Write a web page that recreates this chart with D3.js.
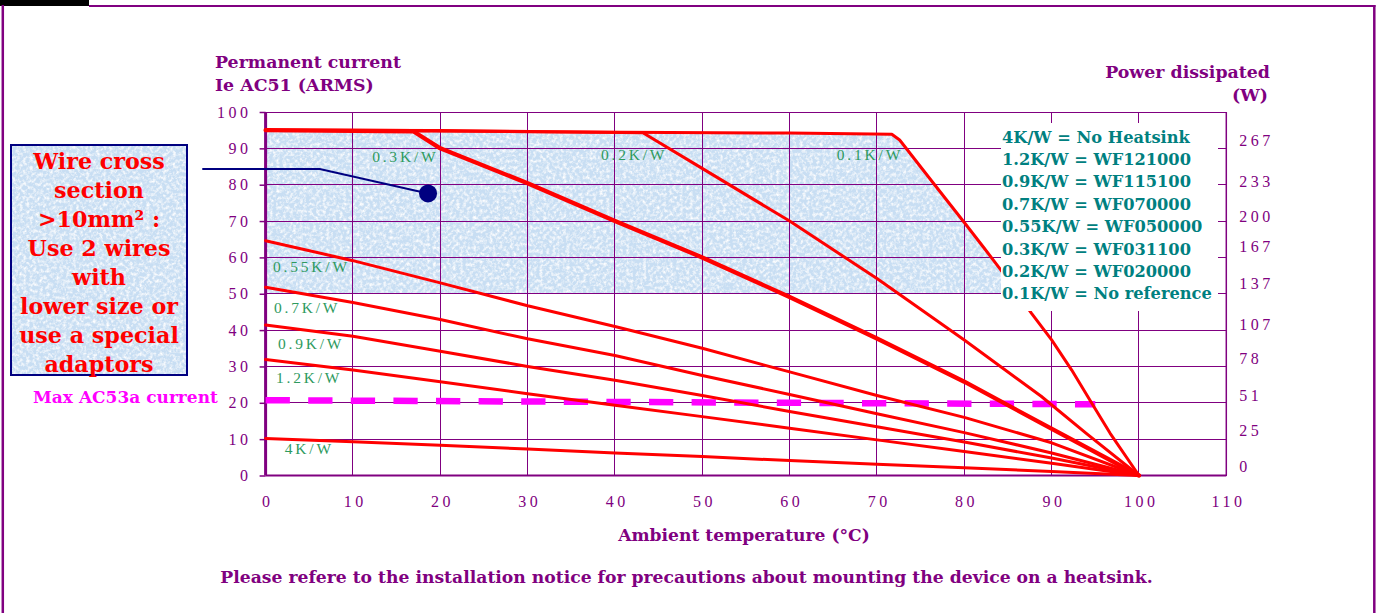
<!DOCTYPE html>
<html><head><meta charset="utf-8">
<script src="https://cdn.jsdelivr.net/npm/d3@7"></script>
<style>
html,body{margin:0;padding:0;background:#fff;}
svg{display:block;}
</style></head>
<body>
<svg id="c" width="1381" height="613"></svg>
<script>
// ---------------- data ----------------
const xTicks = [0,10,20,30,40,50,60,70,80,90,100,110];
const yTicks = [0,10,20,30,40,50,60,70,80,90,100];
const powerLabels = ["0","25","51","78","107","137","167","200","233","267"];
const powerAt     = [2.6,12.5,22.0,32.2,41.6,52.9,62.9,71.2,81.0,92.1];

const temps = [0,10,20,30,40,50,60,70,80,90,100];
const k055 = [64.6,59.1,53.0,46.7,41.0,35.0,28.5,22.0,16.0,9.0,0];
const k07  = [51.8,47.6,42.9,37.6,33.0,27.5,22.3,17.0,11.8,6.2,0];
const k09  = [41.4,38.3,34.2,30.0,26.2,22.0,17.6,13.4,9.2,4.8,0];
const k12  = [31.9,29.0,25.8,22.5,19.3,16.2,13.0,9.8,6.6,3.4,0];
const k4   = [10.2,9.3,8.3,7.3,6.2,5.2,4.1,3.1,2.1,1.1,0];

const k03T = [0,16.9,20,30,40,49.8,60,70,80,88.8,100];
const k03  = [95,94.7,90,80.4,70,60.2,49.1,37.7,25.8,14.4,0];
const k02T = [0,20,43.2,49.7,60,70,73.5,80,88.8,94,100];
const k02  = [95,94.9,94.3,84.9,70,54.2,48.3,37.3,21.8,11.5,0];
const k01T = [0,30,60,71.7,72.6,76.4,80,82.2,84.2,87.7,90,92.3,94.6,96.7,100];
const k01  = [95,94.6,94.2,93.9,92.3,80.6,69.6,62.8,56.5,44.6,37.3,29.0,19.9,11.6,0];

const ac53T = [0,95];
const ac53  = [20.7,19.6];

const curveNames = ["0.3K/W","0.2K/W","0.1K/W","0.55K/W","0.7K/W","0.9K/W","1.2K/W","4K/W"];
const legendLines = ["4K/W = No Heatsink","1.2K/W = WF121000","0.9K/W = WF115100","0.7K/W = WF070000",
  "0.55K/W = WF050000","0.3K/W = WF031100","0.2K/W = WF020000","0.1K/W = No reference"];
const boxLines = ["Wire cross","section",">10mm\u00B2 :","Use 2 wires","with","lower size or","use a special","adaptors"];

// ---------------- layout ----------------
const svg = d3.select("#c");
const PURPLE = "#800080", RED = "#ff0000", TEAL = "#008080", GREEN = "#2e9a5e", NAVY = "#000080", MAG = "#ff00ff";
const SERIF = "'DejaVu Serif', serif";
const TICKF = "'Liberation Serif', serif";

const x = d3.scaleLinear().domain([0,110]).range([265.6,1226.3]);
const y = d3.scaleLinear().domain([0,100]).range([475.5,112]);

const defs = svg.append("defs");
const f = defs.append("filter").attr("id","paper").attr("x",0).attr("y",0).attr("width","100%").attr("height","100%");
f.append("feTurbulence").attr("type","fractalNoise").attr("baseFrequency","0.3").attr("numOctaves",3).attr("seed",5).attr("result","n");
f.append("feColorMatrix").attr("in","n").attr("type","matrix")
  .attr("values","0 0 0 0 1  0 0 0 0 1  0 0 0 0 1  0 0 0 2.2 -0.9").attr("result","w");
f.append("feComposite").attr("in","w").attr("in2","SourceGraphic").attr("operator","in").attr("result","wc");
const fm = f.append("feMerge");
fm.append("feMergeNode").attr("in","SourceGraphic");
fm.append("feMergeNode").attr("in","wc");

// clip: area under 0.1K/W curve
const pts01 = k01T.map((t,i)=>[t,k01[i]]);
defs.append("clipPath").attr("id","under01").append("path")
  .attr("d", d3.area().x(d=>x(d[0])).y0(y(0)).y1(d=>y(d[1]))(pts01));

// frame
svg.append("rect").attr("x",0).attr("y",0).attr("width",89).attr("height",6).attr("fill","#000");
svg.append("line").attr("x1",89).attr("x2",1375.5).attr("y1",6).attr("y2",6).attr("stroke",PURPLE).attr("stroke-width",2);
svg.append("line").attr("x1",2.8).attr("x2",2.8).attr("y1",5).attr("y2",613).attr("stroke",PURPLE).attr("stroke-width",2.5);
svg.append("line").attr("x1",1374.3).attr("x2",1374.3).attr("y1",5).attr("y2",613).attr("stroke",PURPLE).attr("stroke-width",2.5);

// shaded zone
svg.append("g").attr("clip-path","url(#under01)")
  .append("rect").attr("x",x(0)).attr("y",y(95)).attr("width",x(100)-x(0)).attr("height",y(50)-y(95))
  .attr("fill","#c8def3").attr("filter","url(#paper)");

// grid
const grid = svg.append("g").attr("stroke",PURPLE).attr("stroke-width",1).attr("shape-rendering","crispEdges");
grid.selectAll(".v").data(xTicks.filter(d=>d>0)).join("line")
  .attr("x1",d=>x(d)).attr("x2",d=>x(d)).attr("y1",y(0)).attr("y2",y(100));
grid.selectAll(".h").data(yTicks.filter(d=>d>0)).join("line")
  .attr("x1",x(0)).attr("x2",x(110)).attr("y1",d=>y(d)).attr("y2",d=>y(d));

// axes
const axL = svg.append("g").attr("transform",`translate(${x(0)},0)`)
  .call(d3.axisLeft(y).tickValues(yTicks).tickSize(6).tickPadding(8).tickFormat(d3.format("d")));
const axB = svg.append("g").attr("transform",`translate(0,${y(0)})`)
  .call(d3.axisBottom(x).tickValues(xTicks).tickSize(0).tickPadding(20).tickFormat(d3.format("d")));
const axR = svg.append("g").attr("transform",`translate(${x(110)},0)`)
  .call(d3.axisRight(y).tickValues(powerAt).tickSize(0).tickPadding(13).tickFormat((d,i)=>powerLabels[i]));
[axL,axB,axR].forEach(a=>{
  a.select(".domain").attr("stroke",PURPLE);
  a.selectAll(".tick line").attr("stroke",PURPLE);
  a.selectAll("text").attr("fill",PURPLE).attr("font-family",TICKF).attr("font-size",16).attr("letter-spacing","3.5px");
});
axL.select(".domain").attr("stroke-width",3).attr("d",`M0,${y(0)}V${y(100)}`);
axL.selectAll(".tick line").attr("stroke-width",1.5);
axB.select(".domain").attr("stroke-width",2).attr("d",`M${x(0)},0H${x(110)}`);
axR.select(".domain").attr("stroke-width",1.5).attr("d",`M0,${y(0)}V${y(100)}`);
axB.selectAll(".tick text").attr("dx","1.75px");

// AC53 dashed line
const line = d3.line().x(d=>x(d[0])).y(d=>y(d[1]));
svg.append("path").attr("d",line(ac53T.map((t,i)=>[t,ac53[i]])))
  .attr("stroke",MAG).attr("stroke-width",6.5).attr("fill","none").attr("stroke-dasharray","24.3,18.3");

// curves
const curves = [
  {t:temps,v:k4,w:3},{t:temps,v:k12,w:3},{t:temps,v:k09,w:3},{t:temps,v:k07,w:3},
  {t:temps,v:k055,w:3},{t:k03T,v:k03,w:4.3},{t:k02T,v:k02,w:3},{t:k01T,v:k01,w:3}
];
svg.append("g").selectAll("path").data(curves).join("path")
  .attr("d",c=>line(c.t.map((t,i)=>[t,c.v[i]])))
  .attr("fill","none").attr("stroke",RED).attr("stroke-width",c=>c.w)
  .attr("stroke-linejoin","round").attr("stroke-linecap","round");

// legend box
svg.append("rect").attr("x",1001).attr("y",123).attr("width",217).attr("height",188).attr("fill","#fff");
function fitSize(texts, target, weight){
  const t = svg.append("text").attr("font-family",SERIF).attr("font-weight",weight||"bold").attr("font-size",100).text(texts);
  const w = t.node().getComputedTextLength(); t.remove();
  return 100*target/w;
}
const legSize = fitSize(legendLines[7], 210);
svg.append("g").selectAll("text").data(legendLines).join("text")
  .attr("x",1002).attr("y",(d,i)=>142.7+22.37*i)
  .attr("font-family",SERIF).attr("font-weight","bold").attr("font-size",legSize).attr("fill",TEAL).text(d=>d);

// curve labels
const labelPos = [[12.2,86.3],[38.4,86.8],[65.4,86.8],[0.85,55.9],[0.96,44.8],[1.42,34.8],[1.19,25.4],[2.2,5.8]];
svg.append("g").selectAll("text").data(curveNames).join("text")
  .attr("x",(d,i)=>x(labelPos[i][0])).attr("y",(d,i)=>y(labelPos[i][1]))
  .attr("font-family",TICKF).attr("font-size",15.5).attr("letter-spacing","2.8px").attr("fill",GREEN).text(d=>d);

// titles
const tSize = fitSize("Permanent current", 186);
svg.append("text").attr("x",215).attr("y",68).text("Permanent current");
svg.append("text").attr("x",215).attr("y",90.5).text("Ie AC51 (ARMS)");
svg.append("text").attr("x",1270).attr("y",77.5).attr("text-anchor","end").text("Power dissipated");
svg.append("text").attr("x",1268).attr("y",101).attr("text-anchor","end").text("(W)");
svg.append("text").attr("x",744).attr("y",540.5).attr("text-anchor","middle").text("Ambient temperature (\u00B0C)")
  .attr("font-size",fitSize("Ambient temperature (\u00B0C)",252));
svg.append("text").attr("x",686.5).attr("y",582.5).attr("text-anchor","middle")
  .text("Please refere to the installation notice for precautions about mounting the device on a heatsink.")
  .attr("font-size",fitSize("Please refere to the installation notice for precautions about mounting the device on a heatsink.",933));
svg.selectAll("text:not([fill])").attr("fill",PURPLE).attr("font-family",SERIF).attr("font-weight","bold")
  .each(function(){ if(!this.getAttribute("font-size")) this.setAttribute("font-size",tSize); });

svg.append("text").attr("x",33).attr("y",403).attr("fill",MAG).attr("font-family",SERIF).attr("font-weight","bold")
  .attr("font-size",fitSize("Max AC53a current",185)).text("Max AC53a current");

// left note box
svg.append("rect").attr("x",11).attr("y",145).attr("width",176).attr("height",230)
  .attr("fill","#c8def3").attr("filter","url(#paper)");
svg.append("rect").attr("x",11).attr("y",145).attr("width",176).attr("height",230)
  .attr("fill","none").attr("stroke",NAVY).attr("stroke-width",2);
const bSize = fitSize("lower size or", 158);
svg.append("g").selectAll("text").data(boxLines).join("text")
  .attr("x",99).attr("y",(d,i)=>169+29*i).attr("text-anchor","middle")
  .attr("font-family",SERIF).attr("font-weight","bold").attr("font-size",bSize).attr("fill",RED).text(d=>d);

// callout
const callout = [[-7.25,84.3],[6.2,84.3],[18.6,77.6]];
svg.append("path").attr("d",line(callout)).attr("fill","none").attr("stroke",NAVY).attr("stroke-width",2);
svg.append("circle").attr("cx",x(18.6)).attr("cy",y(77.6)).attr("r",9).attr("fill",NAVY);
</script>
</body></html>
